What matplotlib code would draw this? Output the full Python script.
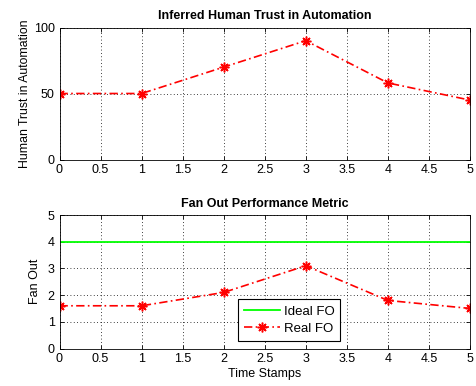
import matplotlib
matplotlib.use("Agg")
import matplotlib.pyplot as plt

time_stamps = [0, 1, 2, 3, 4, 5]
trust = [50, 50, 70, 90, 58, 45]
fan_out_real = [1.6, 1.6, 2.1, 3.1, 1.8, 1.5]
fan_out_ideal = 4
x_ticks = [0, 0.5, 1, 1.5, 2, 2.5, 3, 3.5, 4, 4.5, 5]

plt.rcParams['font.family'] = ['Liberation Sans', 'DejaVu Sans']
plt.rcParams['font.size'] = 8.5

fig = plt.figure(figsize=(4.76, 3.86), dpi=100)
W, H = 476, 386

DASHDOT = (0, (5, 2, 1, 2))
ASTERISK = (8, 2, 0)

def add_axes(left, top, right, bottom):
    return fig.add_axes([left / W, 1 - bottom / H, (right - left) / W, (bottom - top) / H])

def style(ax):
    ax.set_xlim(0, 5)
    ax.set_xticks(x_ticks)
    ax.set_xticklabels([f"{t:g}" for t in x_ticks])
    ax.tick_params(direction='in', length=3, width=0.6, top=True, right=True, pad=3.5,
                   labelsize=9)
    ax.grid(True, linestyle=(0, (1, 3)), color='black', linewidth=0.6)
    for s in ax.spines.values():
        s.set_linewidth(0.6)

def real_line(ax, y, **kw):
    ax.plot(time_stamps, y, color='red', linestyle=DASHDOT, linewidth=1.2,
            marker=ASTERISK, markersize=7, markeredgewidth=1.1, **kw)

ax1 = add_axes(59.5, 27.5, 470, 159.5)
real_line(ax1, trust)
style(ax1)
ax1.set_ylim(0, 100)
ax1.set_yticks([0, 50, 100])
ax1.set_title('Inferred Human Trust in Automation', fontweight='bold', fontsize=9, pad=6)
ax1.set_ylabel('Human Trust in Automation', fontsize=8.8, labelpad=2)

ax2 = add_axes(59.5, 215, 470, 348.5)
ax2.plot([time_stamps[0], time_stamps[-1]], [fan_out_ideal, fan_out_ideal],
         color='#00ff00', linewidth=1.3, label='Ideal FO')
real_line(ax2, fan_out_real, label='Real FO')
style(ax2)
ax2.set_ylim(0, 5)
ax2.set_yticks([0, 1, 2, 3, 4, 5])
ax2.set_title('Fan Out Performance Metric', fontweight='bold', fontsize=9, pad=6)
ax2.set_ylabel('Fan Out', fontsize=9, labelpad=5)
ax2.set_xlabel('Time Stamps', fontsize=9, labelpad=2)
leg = ax2.legend(loc='lower left', bbox_to_anchor=((238 - 59.5) / 410.5, (348.5 - 341) / 133.5),
                 fancybox=False, edgecolor='black', framealpha=1, fontsize=9.5,
                 handlelength=2.7, borderpad=0.45, labelspacing=0.4, handletextpad=0.3,
                 borderaxespad=0)
leg.get_frame().set_linewidth(0.8)

fig.savefig('out.png', dpi=100)
